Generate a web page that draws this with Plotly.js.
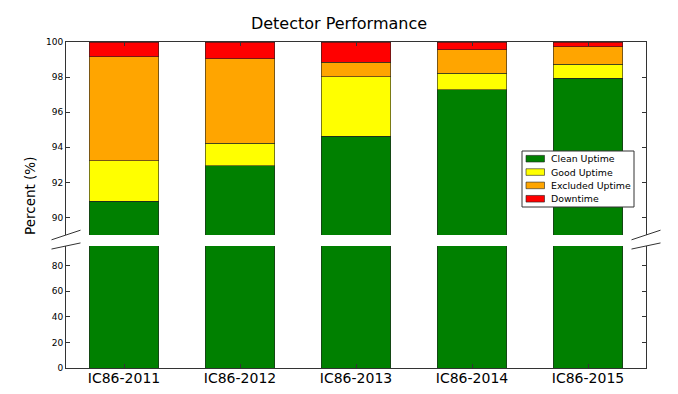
<!DOCTYPE html>
<html>
<head>
<meta charset="utf-8">
<script src="https://cdn.plot.ly/plotly-3.0.1.min.js"></script>
<style>
  html, body { margin: 0; padding: 0; background: #fff; }
  #chart { width: 678px; height: 394px; }
</style>
</head>
<body>
<div id="chart"></div>
<script>
// data (percent of time per season)
const seasons = ['IC86-2011', 'IC86-2012', 'IC86-2013', 'IC86-2014', 'IC86-2015'];
const cleanUptime = [90.91, 92.95, 94.62, 97.27, 97.92];
const goodUptime = [2.33, 1.29, 3.41, 0.95, 0.81];
const excludedUptime = [5.93, 4.81, 0.82, 1.33, 0.99];
const downtime = [0.83, 0.95, 1.15, 0.45, 0.28];

const seriesNames = ['Clean Uptime', 'Good Uptime', 'Excluded Uptime', 'Downtime'];
const seriesColors = ['#008000', '#ffff00', '#ffa500', '#ff0000'];
const seriesValues = [cleanUptime, goodUptime, excludedUptime, downtime];

const FONT = 'DejaVu Sans, Liberation Sans, sans-serif';

// plot box in pixels -> paper coords
const L = 66, R = 646, T = 42, B = 368;
const px = x => (x - L) / (R - L);
const py = y => (B - y) / (B - T);

function makeTraces() {
  // zoomed top panel: the full stack
  const traces = seriesValues.map((vals, i) => ({
    type: 'bar',
    name: seriesNames[i],
    x: seasons,
    y: vals,
    xaxis: 'x2',
    yaxis: 'y2',
    width: 0.6,
    showlegend: false,
    marker: { color: seriesColors[i], line: { color: '#222', width: 0.6 } }
  }));
  // bottom panel: whole bar drawn in green
  const totals = seasons.map((s, j) => seriesValues.reduce((a, v) => a + v[j], 0));
  traces.push({
    type: 'bar',
    name: seriesNames[0],
    x: seasons,
    y: totals,
    xaxis: 'x',
    yaxis: 'y',
    width: 0.6,
    showlegend: false,
    marker: { color: seriesColors[0], line: { color: '#222', width: 0.6 } }
  });
  return traces;
}

// diagonal "break" marks, matplotlib style
const d = 0.025;
function breakMark(cx, cy, h) {
  return {
    type: 'line', xref: 'paper', yref: 'paper',
    x0: px(cx) - d, x1: px(cx) + d,
    y0: py(cy) - d * h / (B - T), y1: py(cy) + d * h / (B - T),
    line: { color: '#333', width: 1 }
  };
}

// hand-made legend box (matplotlib look, tight rows)
function legendParts() {
  const shapes = [{
    type: 'rect', xref: 'paper', yref: 'paper',
    x0: px(522), x1: px(634), y0: py(207), y1: py(151),
    fillcolor: '#fff', line: { color: '#333', width: 1 }
  }];
  const notes = [];
  seriesNames.forEach((name, i) => {
    const cy = 158.7 + i * 13.35;
    shapes.push({
      type: 'rect', xref: 'paper', yref: 'paper',
      x0: px(526), x1: px(544.5), y0: py(cy + 3.3), y1: py(cy - 3.3),
      fillcolor: seriesColors[i], line: { color: '#222', width: 0.6 }
    });
    notes.push({
      text: name, xref: 'paper', yref: 'paper',
      x: px(549), y: py(cy), xanchor: 'left', yanchor: 'middle',
      showarrow: false,
      font: { family: FONT, size: 9.4, color: '#000' }
    });
  });
  return { shapes, notes };
}

const axisCommon = {
  showgrid: false,
  zeroline: false,
  showline: true,
  linecolor: '#333',
  linewidth: 1,
  ticks: 'inside',
  ticklen: 4,
  tickwidth: 1,
  tickcolor: '#333',
  tickfont: { family: FONT, size: 9, color: '#000' }
};

const leg = legendParts();

const layout = {
  width: 678,
  height: 394,
  margin: { l: L, r: 678 - R, t: T, b: 394 - B },
  paper_bgcolor: '#fff',
  plot_bgcolor: '#fff',
  barmode: 'stack',
  font: { family: FONT, color: '#000' },
  showlegend: false,
  title: {
    text: 'Detector Performance',
    font: { family: FONT, size: 16, color: '#000' },
    x: 0.5, xanchor: 'center', y: 1 - 23 / 394, yanchor: 'middle'
  },
  xaxis: Object.assign({}, axisCommon, {
    anchor: 'y',
    range: [-0.5, 4.5],
    ticklabelstandoff: -3,
    tickfont: { family: FONT, size: 14, color: '#000' }
  }),
  xaxis2: Object.assign({}, axisCommon, {
    anchor: 'y2',
    matches: 'x',
    side: 'top',
    range: [-0.5, 4.5],
    showticklabels: false
  }),
  yaxis: Object.assign({}, axisCommon, {
    anchor: 'x',
    domain: [0, py(246)],
    range: [0, 95.2],
    tickvals: [0, 20, 40, 60, 80],
    mirror: 'ticks'
  }),
  yaxis2: Object.assign({}, axisCommon, {
    anchor: 'x2',
    domain: [py(235), 1],
    range: [89, 100],
    tickvals: [90, 92, 94, 96, 98, 100],
    mirror: 'ticks'
  }),
  annotations: [{
    text: 'Percent (%)',
    xref: 'paper', yref: 'paper',
    x: px(30), y: py(196),
    xanchor: 'center', yanchor: 'middle',
    textangle: -90,
    showarrow: false,
    font: { family: FONT, size: 13.5, color: '#000' }
  }].concat(leg.notes),
  shapes: [
    breakMark(L, 235, 193),
    breakMark(R, 235, 193),
    breakMark(L, 246, 122),
    breakMark(R, 246, 122)
  ].concat(leg.shapes)
};

Plotly.newPlot('chart', makeTraces(), layout, { displayModeBar: false, staticPlot: true });
</script>
</body>
</html>
